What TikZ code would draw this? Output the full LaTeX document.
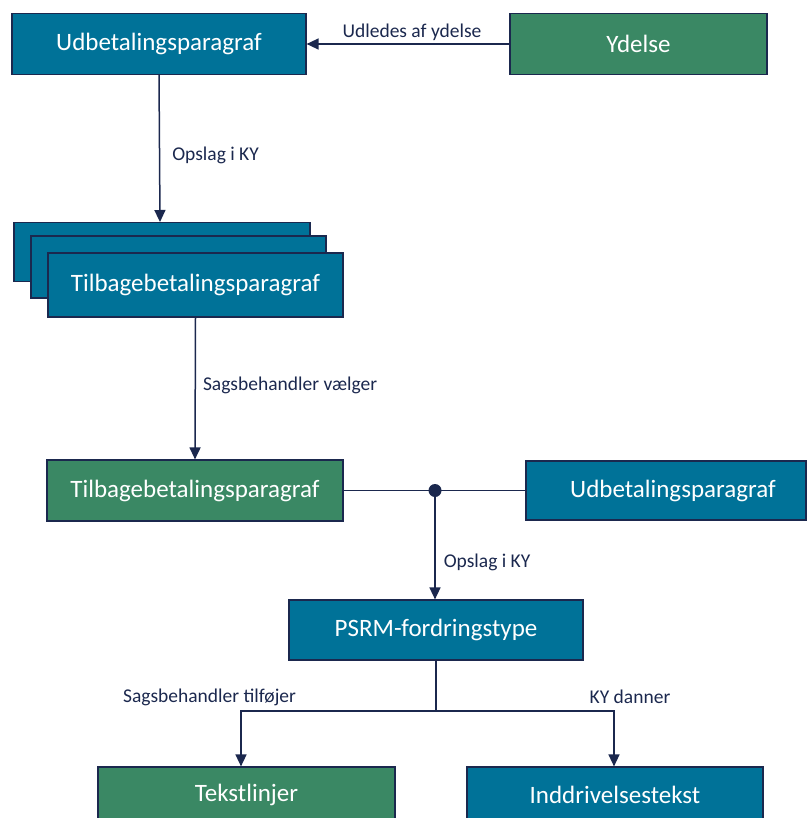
\documentclass[tikz,border=0pt]{standalone}
\usepackage{fontspec}
\setmainfont{Carlito}
\usetikzlibrary{arrows.meta}
\definecolor{boxblue}{RGB}{0,114,152}
\definecolor{boxgreen}{RGB}{58,136,100}
\definecolor{navy}{RGB}{27,40,78}
\tikzset{
  boxfont/.style={text=white, font=\fontsize{25}{28}\selectfont},
  box/.style={draw=navy, line width=1.2pt, boxfont,
    inner sep=0pt, minimum width=#1, minimum height=61pt},
  box/.default=295pt,
  bluebox/.style={box=#1, fill=boxblue},
  bluebox/.default=295pt,
  greenbox/.style={box=#1, fill=boxgreen},
  greenbox/.default=295pt,
  conn/.style={draw=navy, line width=1.5pt},
  arr/.style={conn, -{Triangle[length=12pt, width=11pt]}},
  lbl/.style={text=navy, font=\fontsize{19.5}{22}\selectfont, inner sep=0pt},
}
\begin{document}
\begin{tikzpicture}[x=1pt, y=-1pt]
\useasboundingbox (0,0) rectangle (808,818);

% top row
\node[bluebox=294pt] (udb1) at (159,44) {Udbetalingsparagraf};
\node[greenbox=257pt] (ydelse) at (638.5,44) {Ydelse};
\draw[arr] (ydelse.west) -- node[lbl, above=3pt, xshift=4pt] {Udledes af ydelse} (udb1.east);

% stacked repayment paragraphs
\node[bluebox=296pt, minimum height=59pt] (tb3) at (162,252) {};
\node[bluebox=295pt, minimum height=62pt] (tb2) at (178.5,267) {};
\node[bluebox=295pt, minimum height=64pt] (tb1) at (195.5,285) {Tilbagebetalingsparagraf};
\coordinate (tbtop) at (160,222);
\draw[arr] (udb1.south) -- node[lbl, right=12pt, pos=0.55] {Opslag i KY} (tbtop);

% chosen paragraph
\node[greenbox=296pt] (tbsel) at (195,490.5) {Tilbagebetalingsparagraf};
\draw[arr] (tb1.south) -- node[lbl, right=7pt, pos=0.48] {Sagsbehandler vælger} (tbsel.north);

\node[bluebox=280pt, minimum height=59pt] (udb2) at (666,490.5) {\hspace*{14pt}Udbetalingsparagraf};
\coordinate (join) at (435,490.5);
\draw[conn] (tbsel.east) -- (join) -- (udb2.west);
\fill[navy] (join) circle (6.5pt);

\node[bluebox=294pt, minimum height=60pt] (psrm) at (436,630) {PSRM-fordringstype};
\draw[arr] (join) -- node[lbl, right=8pt, pos=0.66] {Opslag i KY} (join |- psrm.north);

% bottom row
\node[greenbox=297pt] (tekst) at (246.5,797.5) {};
\node[boxfont] at (246.5,795) {Tekstlinjer};
\node[bluebox=296pt] (inddr) at (615,797.5) {};
\node[boxfont] at (615,795) {Inddrivelsestekst};

\coordinate (split) at (436,711);
\coordinate (lsplit) at (241,711);
\coordinate (rsplit) at (614,711);
\draw[conn] (psrm.south) -- (split);
\draw[arr] (split) -- (lsplit) -- (lsplit |- tekst.north);
\draw[arr] (split) -- (rsplit) -- (rsplit |- inddr.north);
\node[lbl] at (209.5,697) {Sagsbehandler tilføjer};
\node[lbl] at (630,697) {KY danner};
\end{tikzpicture}
\end{document}
